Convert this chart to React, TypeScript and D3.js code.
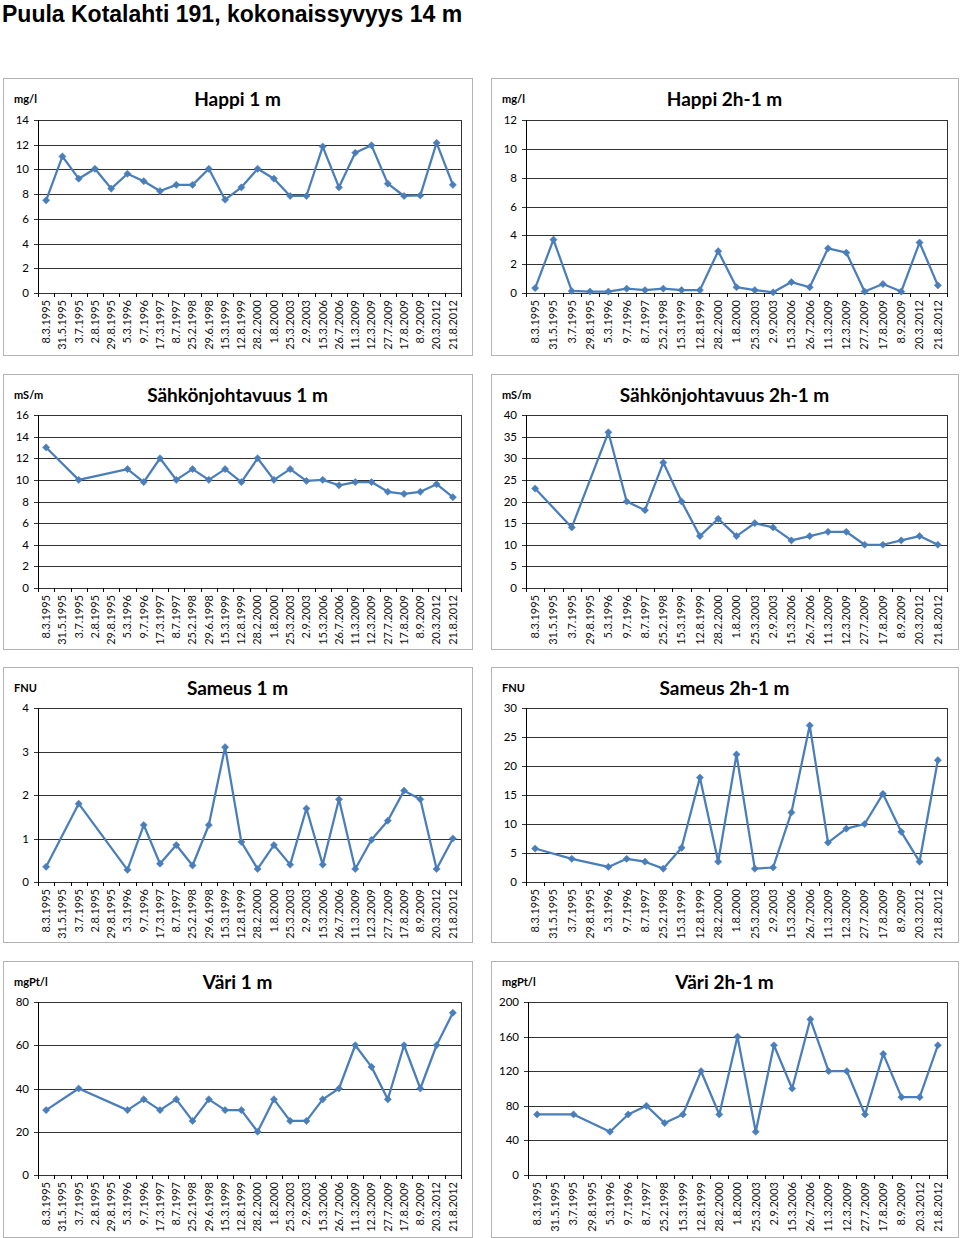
import React from "react";
import * as d3 from "d3";

const cats1m = ["8.3.1995","31.5.1995","3.7.1995","2.8.1995","29.8.1995","5.3.1996","9.7.1996","17.3.1997","8.7.1997","25.2.1998","29.6.1998","15.3.1999","12.8.1999","28.2.2000","1.8.2000","25.3.2003","2.9.2003","15.3.2006","26.7.2006","11.3.2009","12.3.2009","27.7.2009","17.8.2009","8.9.2009","20.3.2012","21.8.2012"];
const cats2h = ["8.3.1995","31.5.1995","3.7.1995","29.8.1995","5.3.1996","9.7.1996","8.7.1997","25.2.1998","15.3.1999","12.8.1999","28.2.2000","1.8.2000","25.3.2003","2.9.2003","15.3.2006","26.7.2006","11.3.2009","12.3.2009","27.7.2009","17.8.2009","8.9.2009","20.3.2012","21.8.2012"];

const happi1 = [7.5,11.05,9.25,10.05,8.45,9.65,9.05,8.25,8.75,8.75,10.05,7.55,8.55,10.05,9.25,7.85,7.85,11.85,8.55,11.35,11.95,8.85,7.85,7.9,12.15,8.75];
const happi2h = [0.34,3.7,0.14,0.1,0.1,0.3,0.2,0.3,0.2,0.2,2.9,0.4,0.2,0.05,0.76,0.4,3.1,2.8,0.1,0.62,0.1,3.5,0.53];
const sahko1 = [13,null,10,null,null,11,9.8,12,10,11,10,11,9.8,12,10,11,9.9,10,9.5,9.8,9.8,8.9,8.7,8.9,9.6,8.4];
const sahko2h = [23,null,14,null,36,20,18,29,20,12,16,12,15,14,11,12,13,13,10,10,11,12,10];
const sameus1 = [0.35,null,1.8,null,null,0.28,1.31,0.42,0.85,0.38,1.31,3.1,0.92,0.3,0.85,0.4,1.69,0.4,1.9,0.3,0.97,1.41,2.1,1.9,0.3,1.0];
const sameus2h = [5.77,null,4.0,null,2.6,4.0,3.5,2.3,5.9,18,3.5,22,2.3,2.5,12,27,6.8,9.2,10,15.2,8.65,3.5,21];
const vari1 = [30,null,40,null,null,30,35,30,35,25,35,30,30,20,35,25,25,35,40,60,50,35,60,40,60,75];
const vari2h = [70,null,70,null,50,70,80,60,70,120,70,160,50,150,100,180,120,120,70,140,90,90,150];

const mainTitle = "Puula Kotalahti 191, kokonaissyvyys 14 m";

const FONT = "Lato, 'Open Sans', sans-serif";
const BLUE = "#4A7EBB";

type PanelProps = {
  x0: number; x1: number; y0: number; y1: number;
  pl: number; pr: number; pt: number; pb: number;
  title: string; unit: string; cats: string[]; values: (number | null)[];
  yMax: number; yStep: number;
};

function Panel(p: PanelProps) {
  const x = d3.scaleBand<string>().domain(p.cats).range([p.pl, p.pr]).padding(0);
  const y = d3.scaleLinear().domain([0, p.yMax]).range([p.pb, p.pt]);
  const ticks = d3.range(0, p.yMax + p.yStep / 2, p.yStep);
  const pts: [number, number][] = [];
  p.values.forEach((v, i) => {
    if (v !== null && v !== undefined) pts.push([(x(p.cats[i]) as number) + x.bandwidth() / 2, y(v)]);
  });
  const line = d3.line<[number, number]>().x(d => d[0]).y(d => d[1]);
  const marker = d3.symbol().type(d3.symbolSquare).size(26)();
  const bounds = p.cats.map(c => x(c) as number).concat([p.pr]);
  return (
    <g>
      <rect x={p.x0 + 0.5} y={p.y0 + 0.5} width={p.x1 - p.x0} height={p.y1 - p.y0} fill="#fff" stroke="#b3b3b3" strokeWidth={1} />
      <text x={(p.x0 + p.x1) / 2} y={p.y0 + 28} textAnchor="middle" fontFamily={FONT} fontWeight="bold" fontSize={19} fill="#000">{p.title}</text>
      <text x={p.x0 + 11} y={p.y0 + 25} fontFamily={FONT} fontWeight="bold" fontSize={11} fill="#000">{p.unit}</text>
      {ticks.map(t => (
        <g key={t}>
          <line x1={p.pl - 4} x2={p.pr} y1={Math.round(y(t)) + 0.5} y2={Math.round(y(t)) + 0.5} stroke="#333" strokeWidth={1} />
          <text x={p.pl - 9} y={y(t)} dy="0.35em" textAnchor="end" fontFamily={FONT} fontSize={11.5} fill="#000">{t}</text>
        </g>
      ))}
      <line x1={p.pl + 0.5} x2={p.pl + 0.5} y1={p.pt} y2={p.pb} stroke="#000" strokeWidth={1} />
      <line x1={p.pr + 0.5} x2={p.pr + 0.5} y1={p.pt} y2={p.pb} stroke="#333" strokeWidth={1} />
      {bounds.map((b, i) => (
        <line key={i} x1={Math.round(b) + 0.5} x2={Math.round(b) + 0.5} y1={p.pb} y2={p.pb + 4} stroke="#000" strokeWidth={1} />
      ))}
      {p.cats.map(c => {
        const cx = (x(c) as number) + x.bandwidth() / 2;
        return (
          <text key={c} transform={`translate(${cx},${p.pb + 7}) rotate(-90)`} dy="0.35em" textAnchor="end" fontFamily={FONT} fontSize={11} fill="#111">{c}</text>
        );
      })}
      <path d={line(pts) || ""} fill="none" stroke={BLUE} strokeWidth={2.25} strokeLinejoin="round" />
      {pts.map((q, i) => (
        <path key={i} d={marker || ""} transform={`translate(${q[0]},${q[1]}) rotate(45)`} fill={BLUE} stroke={BLUE} strokeWidth={0.5} />
      ))}
    </g>
  );
}

const L = { x0: 3, x1: 472, pl: 38, pr: 461 };
const R = { x0: 491, x1: 958, pl: 526, pr: 947 };
const rows = [
  { y0: 78, y1: 355, pt: 120, pb: 293 },
  { y0: 374, y1: 649, pt: 415, pb: 588 },
  { y0: 667, y1: 942, pt: 708, pb: 882 },
  { y0: 961, y1: 1237, pt: 1002, pb: 1175 },
];

export default function App() {
  return (
    <svg width={960} height={1238} style={{ position: "absolute", left: 0, top: 0, display: "block", background: "#fff" }}>
      <rect x={0} y={0} width={960} height={1238} fill="#fff" />
      <text x={2} y={21.5} fontFamily="'Liberation Sans', Arial, sans-serif" fontWeight="bold" fontSize={23} fill="#000">{mainTitle}</text>
      <Panel {...L} {...rows[0]} title="Happi 1 m" unit="mg/l" cats={cats1m} values={happi1} yMax={14} yStep={2} />
      <Panel {...R} {...rows[0]} title="Happi 2h-1 m" unit="mg/l" cats={cats2h} values={happi2h} yMax={12} yStep={2} />
      <Panel {...L} {...rows[1]} title="Sähkönjohtavuus 1 m" unit="mS/m" cats={cats1m} values={sahko1} yMax={16} yStep={2} />
      <Panel {...R} {...rows[1]} title="Sähkönjohtavuus 2h-1 m" unit="mS/m" cats={cats2h} values={sahko2h} yMax={40} yStep={5} />
      <Panel {...L} {...rows[2]} title="Sameus 1 m" unit="FNU" cats={cats1m} values={sameus1} yMax={4} yStep={1} />
      <Panel {...R} {...rows[2]} title="Sameus 2h-1 m" unit="FNU" cats={cats2h} values={sameus2h} yMax={30} yStep={5} />
      <Panel {...L} {...rows[3]} title="Väri 1 m" unit="mgPt/l" cats={cats1m} values={vari1} yMax={80} yStep={20} />
      <Panel {...R} {...rows[3]} pl={528} title="Väri 2h-1 m" unit="mgPt/l" cats={cats2h} values={vari2h} yMax={200} yStep={40} />
    </svg>
  );
}
